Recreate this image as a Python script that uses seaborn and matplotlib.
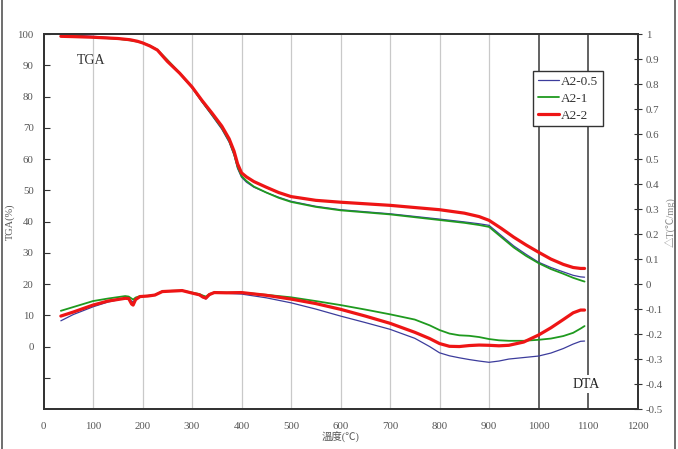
import numpy as np
import pandas as pd
import matplotlib
matplotlib.use("Agg")
import matplotlib.pyplot as plt
from matplotlib.lines import Line2D
import seaborn as sns

sns.set_theme(style="white")
plt.rcParams['font.family'] = ['Liberation Serif', 'Noto Sans CJK TC', 'DejaVu Sans']

# ---------------- data ----------------
series_names = ["A2-0.5", "A2-1", "A2-2"]
series_colors = ["#3c3c9c", "#1f9a1f", "#ee1515"]
series_widths = [0.9, 1.3, 2.3]

tga_temp = [35, 60, 100, 150, 175, 190, 200, 215, 230, 250, 275, 300, 320, 340, 360, 375, 385,
            392, 400, 410, 425, 450, 475, 500, 550, 600, 700, 800, 850, 880, 900, 925, 950,
            975, 1000, 1025, 1050, 1070, 1085, 1093]
tga_a2_05 = [100.0, 99.7, 99.3, 98.7, 98.1, 97.6, 97.2, 96.2, 94.9, 91.4, 87.3, 82.8, 78.3, 74.0,
             69.6, 65.4, 61.2, 57.0, 54.2, 52.6, 51.0, 49.3, 47.8, 46.5, 44.9, 43.8, 42.5, 40.8,
             39.9, 39.3, 38.8, 35.5, 32.2, 29.5, 27.0, 25.3, 23.9, 22.8, 22.3, 22.2]
tga_a2_1 = [99.6, 99.4, 99.0, 98.5, 98.0, 97.6, 97.2, 96.3, 95.0, 91.8, 87.6, 83.0, 78.5, 74.3,
            70.0, 65.8, 61.6, 57.5, 54.6, 53.0, 51.2, 49.3, 47.6, 46.3, 44.7, 43.6, 42.3, 40.5,
            39.6, 38.9, 38.3, 35.0, 31.7, 29.0, 26.7, 24.8, 23.3, 22.0, 21.2, 20.8]
tga_a2_2 = [99.3, 99.2, 99.0, 98.6, 98.2, 97.7, 97.2, 96.2, 94.9, 91.3, 87.5, 83.1, 78.8, 74.8,
            70.6, 66.5, 62.5, 58.5, 55.6, 54.3, 52.8, 51.0, 49.3, 48.0, 46.8, 46.2, 45.2, 43.8,
            42.7, 41.6, 40.4, 37.8, 35.0, 32.5, 30.2, 28.0, 26.3, 25.3, 25.0, 25.0]

dta_temp = [35, 60, 100, 130, 165, 172, 178, 181, 186, 195, 210, 225, 240, 260, 280, 300, 315,
            322, 328, 335, 345, 370, 400, 450, 500, 550, 600, 650, 700, 750, 780, 800, 820, 840,
            860, 880, 900, 920, 940, 970, 1000, 1025, 1050, 1070, 1085, 1093]
dta_a2_05 = [-0.147, -0.122, -0.091, -0.072, -0.057, -0.058, -0.068, -0.072, -0.060, -0.050,
             -0.048, -0.045, -0.030, -0.028, -0.027, -0.037, -0.045, -0.054, -0.060, -0.045,
             -0.035, -0.037, -0.040, -0.055, -0.075, -0.100, -0.128, -0.154, -0.181, -0.217,
             -0.250, -0.275, -0.287, -0.295, -0.302, -0.308, -0.313, -0.308, -0.300, -0.294,
             -0.288, -0.276, -0.258, -0.240, -0.229, -0.228]
dta_a2_1 = [-0.107, -0.092, -0.068, -0.058, -0.048, -0.050, -0.058, -0.062, -0.054, -0.048,
            -0.047, -0.043, -0.029, -0.027, -0.026, -0.034, -0.040, -0.046, -0.050, -0.040,
            -0.033, -0.034, -0.034, -0.043, -0.053, -0.068, -0.084, -0.102, -0.121, -0.142,
            -0.165, -0.184, -0.198, -0.205, -0.207, -0.212, -0.220, -0.225, -0.227, -0.227,
            -0.223, -0.218, -0.208, -0.195, -0.178, -0.168]
dta_a2_2 = [-0.128, -0.112, -0.084, -0.068, -0.057, -0.058, -0.080, -0.084, -0.062, -0.050,
            -0.048, -0.044, -0.030, -0.028, -0.026, -0.036, -0.043, -0.052, -0.056, -0.042,
            -0.034, -0.035, -0.034, -0.045, -0.060, -0.078, -0.101, -0.128, -0.157, -0.193,
            -0.218, -0.238, -0.249, -0.250, -0.246, -0.244, -0.245, -0.247, -0.245, -0.232,
            -0.204, -0.175, -0.142, -0.115, -0.104, -0.104]

x_ticks = list(range(0, 1201, 100))
tga_ticks = list(range(-10, 101, 10))
tga_tick_labels = [""] + [str(v) for v in range(0, 101, 10)]
dta_ticks = [round(-0.5 + 0.1 * i, 1) for i in range(16)]
dta_tick_labels = ["-0.5", "-0.4", "-0.3", "-0.2", "-0.1", "0", "0.1", "0.2", "0.3",
                   "0.4", "0.5", "0.6", "0.7", "0.8", "0.9", "1"]

tga_df = pd.DataFrame({
    "T": tga_temp * 3,
    "v": tga_a2_05 + tga_a2_1 + tga_a2_2,
    "s": [series_names[0]] * len(tga_temp) + [series_names[1]] * len(tga_temp) + [series_names[2]] * len(tga_temp),
})
dta_df = pd.DataFrame({
    "T": dta_temp * 3,
    "v": dta_a2_05 + dta_a2_1 + dta_a2_2,
    "s": [series_names[0]] * len(dta_temp) + [series_names[1]] * len(dta_temp) + [series_names[2]] * len(dta_temp),
})

# ---------------- figure ----------------
fig = plt.figure(figsize=(6.78, 4.49), dpi=100)
ax = fig.add_axes([0.0642, 0.089, 0.8761, 0.835])
ax2 = ax.twinx()

tick_color = "#555555"
spine_color = "#333333"

for xv in range(100, 1000, 100):
    ax.axvline(xv, color="#c9c9c9", lw=0.9, zorder=0)
for xv in (1000, 1100):
    ax.axvline(xv, color="#555555", lw=1.3, zorder=0)

for name, col, lw in zip(series_names, series_colors, series_widths):
    sub = tga_df[tga_df["s"] == name]
    sns.lineplot(data=sub, x="T", y="v", ax=ax, color=col, lw=lw, sort=False, legend=False,
                 solid_joinstyle="round", solid_capstyle="round")
    sub2 = dta_df[dta_df["s"] == name]
    sns.lineplot(data=sub2, x="T", y="v", ax=ax2, color=col, lw=lw, sort=False, label=name,
                 legend=False, solid_joinstyle="round", solid_capstyle="round")

ax.set_xlim(0, 1200)
ax.set_ylim(-20, 100)
ax2.set_ylim(-0.5, 1.0)

ax.set_xticks(x_ticks)
ax.set_xticklabels([str(v) for v in x_ticks])
ax.set_yticks(tga_ticks)
ax.set_yticklabels(tga_tick_labels)
ax2.set_yticks(dta_ticks)
ax2.set_yticklabels(dta_tick_labels)

ax.tick_params(axis="x", direction="in", length=4, width=0.8, colors=spine_color,
               labelcolor=tick_color, labelsize=7.8, pad=9)
ax.tick_params(axis="y", direction="in", length=4, width=0.8, colors=spine_color,
               labelcolor=tick_color, labelsize=7.8, pad=7)
ax2.tick_params(axis="y", direction="inout", length=6, width=0.8, colors=spine_color,
                labelcolor=tick_color, labelsize=7.8, pad=3)

for a in (ax, ax2):
    for sp in a.spines.values():
        sp.set_color(spine_color)
        sp.set_linewidth(1.3)
        sp.set_visible(True)

ax.set_xlabel("溫度(℃)", color=tick_color, fontsize=7.5, labelpad=1)
ax.set_ylabel("TGA(%)", color=tick_color, fontsize=7.5, labelpad=2)
ax2.set_ylabel("△T(℃/mg)", color="#888888", fontsize=7.5, labelpad=2)

ax.text(96, 91.7, "TGA", ha="center", va="center", fontsize=10, color="#333333")
ax2.text(1096, -0.4, "DTA", ha="center", va="center", fontsize=10, color="#222222",
         bbox=dict(facecolor="white", edgecolor="none", pad=2))

leg = ax2.legend(loc="upper left", bbox_to_anchor=(0.824, 0.901), borderaxespad=0, fontsize=9.5,
                 frameon=True, fancybox=False, edgecolor="#333333", framealpha=1,
                 handlelength=1.6, handletextpad=0.2, borderpad=0.35, labelspacing=0.35)
leg.get_frame().set_linewidth(1.0)
for t in leg.get_texts():
    t.set_color("#333333")

fig.add_artist(Line2D([0.0035, 0.0035], [0, 1], transform=fig.transFigure, color="#555555", lw=1.2))
fig.add_artist(Line2D([0.9956, 0.9956], [0, 1], transform=fig.transFigure, color="#555555", lw=1.2))

fig.savefig("out.png", dpi=100)
